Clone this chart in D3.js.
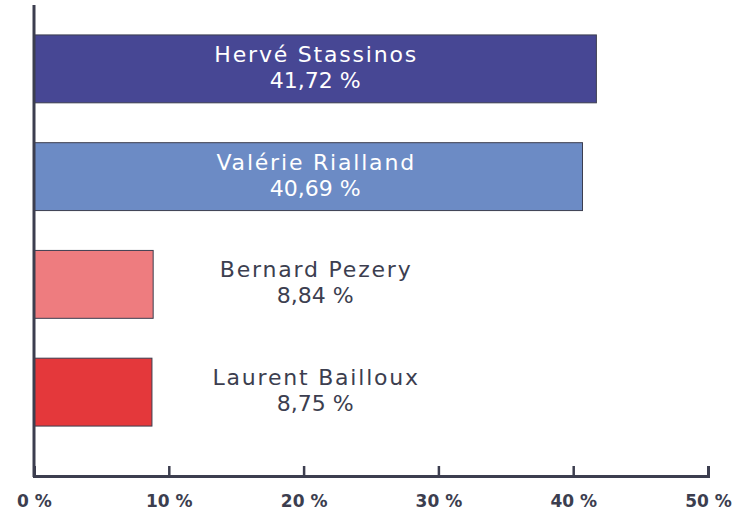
<!DOCTYPE html>
<html>
<head>
<meta charset="utf-8">
<script src="https://cdn.jsdelivr.net/npm/d3@7"></script>
<style>
  body { margin: 0; background: #fff; }
</style>
</head>
<body>
<div id="chart"></div>
<script>
// candidates and their scores
var names = ["Hervé Stassinos", "Valérie Rialland", "Bernard Pezery", "Laurent Bailloux"]
var scores = [41.72, 40.69, 8.84, 8.75]
var barColors = ["#474794", "#6c8bc5", "#ee7c7f", "#e4383b"]
var ticks = [0, 10, 20, 30, 40, 50]

var width = 735
var height = 513
var ink = "#3c3e4f"
var font = "'DejaVu Sans', Verdana, sans-serif"

var svg = d3.select("#chart").append("svg")
    .attr("width", width)
    .attr("height", height)

var xScale = d3.scaleLinear().domain([0, 50]).range([34, 708])
var yScale = d3.scaleBand().domain(names).range([15, 446]).paddingInner(0.37).paddingOuter(0.185)

var fmt = function(v){ return String(v.toFixed(2)).replace(".", ",") + " %" }

// bars
svg.selectAll(".bar")
    .data(names)
    .enter().append("rect")
    .attr("class", "bar")
    .attr("x", xScale(0))
    .attr("y", function(d){ return yScale(d) })
    .attr("width", function(d,i){ return xScale(scores[i]) - xScale(0) })
    .attr("height", yScale.bandwidth())
    .attr("fill", function(d,i){ return barColors[i] })
    .attr("stroke", ink)
    .attr("stroke-width", 1)

// labels, centered on the biggest bar
var labelX = xScale(d3.max(scores) / 2)
var labels = svg.selectAll(".lab")
    .data(names)
    .enter().append("text")
    .attr("class", "lab")
    .attr("text-anchor", "middle")
    .attr("font-family", font)
    .attr("font-size", "22px")
    .attr("fill", function(d,i){ return scores[i] > 20 ? "#ffffff" : ink })

labels.append("tspan")
    .attr("x", labelX + 1)
    .attr("y", function(d){ return yScale(d) + yScale.bandwidth()/2 - 7 })
    .attr("letter-spacing", "1.8px")
    .text(function(d){ return d })
labels.append("tspan")
    .attr("x", labelX)
    .attr("y", function(d){ return yScale(d) + yScale.bandwidth()/2 + 19 })
    .text(function(d,i){ return fmt(scores[i]) })

// x axis
var xAxis = d3.axisBottom(xScale)
    .tickValues(ticks)
    .tickSize(-10)
    .tickFormat(function(d){ return d + " %" })

var gx = svg.append("g")
    .attr("transform", "translate(0,476)")
    .call(xAxis)
gx.select(".domain").attr("stroke", ink).attr("stroke-width", 3)
gx.selectAll(".tick line").attr("stroke", ink).attr("stroke-width", 2.5)
gx.selectAll(".tick text")
    .attr("fill", ink)
    .attr("font-family", font)
    .attr("font-weight", "bold")
    .attr("font-size", "17px")
    .attr("y", 31)
    .attr("dy", "0")

// y axis line
svg.append("line")
    .attr("x1", xScale(0)).attr("x2", xScale(0))
    .attr("y1", 5).attr("y2", 477)
    .attr("stroke", ink)
    .attr("stroke-width", 3)
</script>
</body>
</html>
